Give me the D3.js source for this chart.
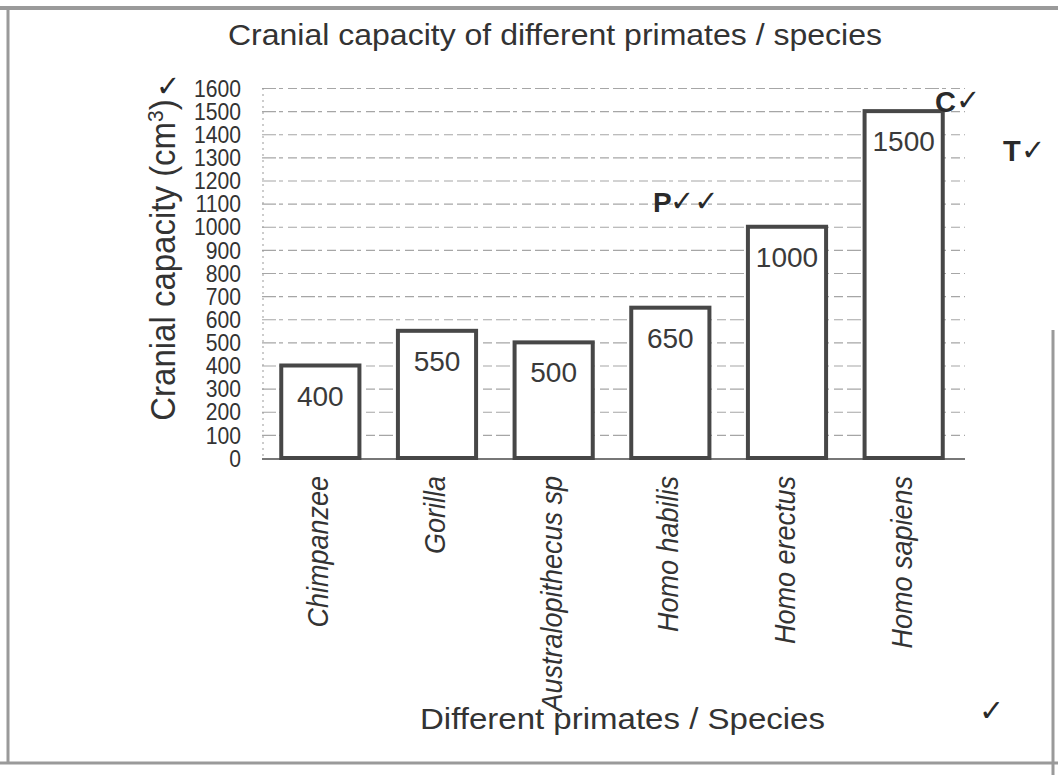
<!DOCTYPE html>
<html>
<head>
<meta charset="utf-8">
<script src="https://cdn.jsdelivr.net/npm/d3@7"></script>
<style>
  html, body { margin: 0; padding: 0; background: #fff; }
  svg { display: block; font-family: "Liberation Sans", Arial, sans-serif; }
</style>
</head>
<body>
<svg id="chart" width="1058" height="775"></svg>
<script>
const categories = ["Chimpanzee", "Gorilla", "Australopithecus sp", "Homo habilis", "Homo erectus", "Homo sapiens"];
const values = [400, 550, 500, 650, 1000, 1500];
const yTickValues = [0, 100, 200, 300, 400, 500, 600, 700, 800, 900, 1000, 1100, 1200, 1300, 1400, 1500, 1600];
const titleText = "Cranial capacity of different primates / species";
const yTitleText = "Cranial capacity (cm";
const yTitleSup = "3";
const xTitleText = "Different primates / Species";
const marks = [
  { text: "✓", x: 156, y: 96, size: 29, bold: false },
  { text: "C", x: 935, y: 112, size: 29, bold: true },
  { text: "✓", x: 956, y: 110, size: 29, bold: false },
  { text: "T", x: 1003, y: 161, size: 29, bold: true },
  { text: "✓", x: 1021, y: 160, size: 29, bold: false },
  { text: "P", x: 653, y: 212, size: 28, bold: true },
  { text: "✓✓", x: 670, y: 211, size: 29, bold: false },
  { text: "✓", x: 979, y: 721, size: 30, bold: false }
];

const svg = d3.select("#chart");
const ink = "#333";
const barStroke = "#474747";

// frame of the scanned page
const frame = svg.append("g").attr("stroke", "#9a9a9a").attr("fill", "none");
frame.append("line").attr("x1", 0).attr("x2", 1058).attr("y1", 8).attr("y2", 8).attr("stroke-width", 4);
frame.append("line").attr("x1", 8).attr("x2", 8).attr("y1", 8).attr("y2", 763).attr("stroke-width", 3);
frame.append("line").attr("x1", 0).attr("x2", 1058).attr("y1", 763).attr("y2", 763).attr("stroke-width", 3);
frame.append("line").attr("x1", 1053).attr("x2", 1053).attr("y1", 330).attr("y2", 775).attr("stroke-width", 3);

const x = d3.scaleBand().domain(categories).range([262, 962]).paddingInner(0.33).paddingOuter(0.165);
const y = d3.scaleLinear().domain([0, 1600]).range([458, 88]);

// gridlines
const grid = d3.axisLeft(y).tickValues(yTickValues).tickSize(-(965 - 262)).tickFormat("");
const gg = svg.append("g").attr("transform", "translate(262,0)").call(grid);
gg.select(".domain").remove();
gg.selectAll(".tick line").attr("stroke", "#808080").attr("stroke-width", 1.1)
  .attr("stroke-dasharray", "14 3 4 5 9 4").attr("opacity", 0.7);

// left faint axis line
svg.append("line").attr("x1", 263).attr("x2", 263).attr("y1", y(1600)).attr("y2", y(0))
  .attr("stroke", "#999").attr("stroke-width", 1).attr("stroke-dasharray", "2 4");

// y tick labels via axis (condensed horizontally like the scan)
const yAxis = d3.axisLeft(y).tickValues(yTickValues).tickSize(0).tickPadding(0).tickFormat(d3.format("d"));
const ya = svg.append("g").attr("transform", "translate(241,0) scale(0.88,1)").call(yAxis);
ya.select(".domain").remove();
ya.selectAll("text").attr("font-size", 24).attr("fill", ink)
  .attr("font-family", "'Liberation Sans', Arial, sans-serif")
  .attr("dy", "0.34em");

// baseline
svg.append("line").attr("x1", 262).attr("x2", 965).attr("y1", y(0) + 1).attr("y2", y(0) + 1)
  .attr("stroke", "#777").attr("stroke-width", 2);

// bars
svg.append("g").selectAll("rect").data(categories).join("rect")
  .attr("x", d => x(d))
  .attr("y", (d, i) => y(values[i]))
  .attr("width", x.bandwidth())
  .attr("height", (d, i) => y(0) - y(values[i]))
  .attr("fill", "#fff")
  .attr("stroke", barStroke)
  .attr("stroke-width", 4);

// bar value labels
svg.append("g").selectAll("text").data(categories).join("text")
  .attr("x", d => x(d) + x.bandwidth() / 2)
  .attr("y", (d, i) => y(values[i]) + 40)
  .attr("text-anchor", "middle")
  .attr("font-size", 28)
  .attr("fill", "#3a3a3a")
  .text((d, i) => values[i]);

// x category labels (rotated, italic)
svg.append("g").selectAll("text").data(categories).join("text")
  .attr("transform", d => `translate(${x(d) + x.bandwidth() / 2 + 8},476) rotate(-90) scale(1,1.12)`)
  .attr("text-anchor", "end")
  .attr("font-size", 27)
  .attr("font-style", "italic")
  .attr("fill", ink)
  .text(d => d);

// title
svg.append("text").attr("x", 228).attr("y", 45).attr("text-anchor", "start")
  .attr("font-size", 29).attr("textLength", 654).attr("lengthAdjust", "spacingAndGlyphs")
  .attr("fill", ink).text(titleText);

// y title
const yt = svg.append("text").attr("transform", "translate(175,260) rotate(-90) scale(1,1.05)")
  .attr("text-anchor", "middle").attr("font-size", 33).attr("fill", ink);
yt.append("tspan").text(yTitleText);
yt.append("tspan").attr("baseline-shift", "super").attr("font-size", 21).text(yTitleSup);
yt.append("tspan").text(")");

// x title
svg.append("text").attr("x", 420).attr("y", 729).attr("text-anchor", "start")
  .attr("font-size", 29).attr("textLength", 405).attr("lengthAdjust", "spacingAndGlyphs")
  .attr("fill", ink).text(xTitleText);

// handwritten-style marks
svg.append("g").selectAll("text").data(marks).join("text")
  .attr("x", d => d.x).attr("y", d => d.y)
  .attr("font-size", d => d.size)
  .attr("font-weight", d => d.bold ? "bold" : "normal")
  .attr("font-family", d => d.bold ? "'Liberation Sans', Arial, sans-serif" : "'DejaVu Sans', sans-serif")
  .attr("fill", "#2a2a2a")
  .text(d => d.text);
</script>
</body>
</html>
